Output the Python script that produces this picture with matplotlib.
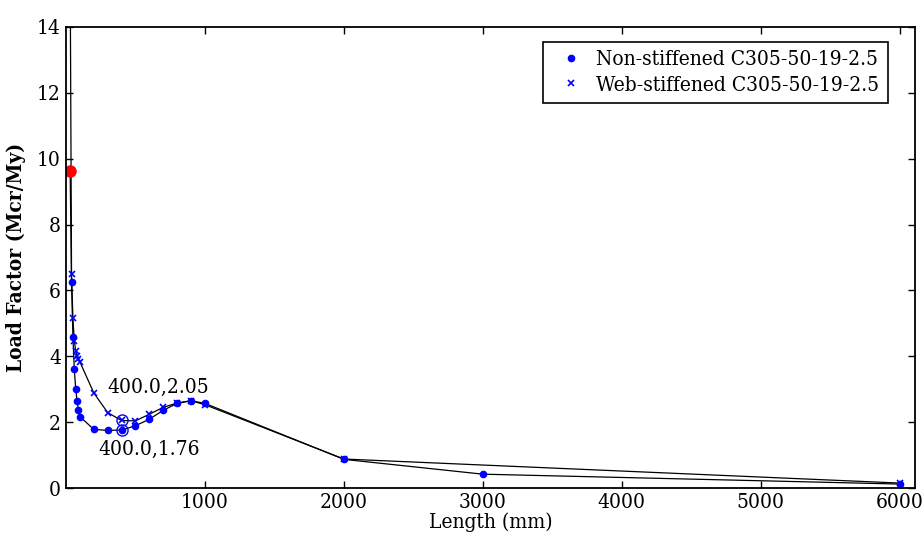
import matplotlib
matplotlib.use("Agg")
import matplotlib.pyplot as plt

plt.rcParams['font.family'] = ['DejaVu Serif']
plt.rcParams['font.stretch'] = 'condensed'

# signature curve data: half-wavelength (mm) vs load factor
len_plain = [30, 40, 50, 60, 70, 80, 90, 100, 200, 300, 400, 500, 600, 700,
             800, 900, 1000, 2000, 3000, 6000]
lf_plain = [9.64, 6.25, 4.58, 3.60, 3.02, 2.63, 2.37, 2.17, 1.78, 1.75, 1.76,
            1.89, 2.09, 2.36, 2.57, 2.65, 2.57, 0.87, 0.42, 0.12]

len_web = [30, 40, 50, 60, 70, 80, 90, 100, 200, 300, 400, 500, 600, 700,
           800, 900, 1000, 2000, 6000]
lf_web = [16.0, 6.49, 5.15, 4.47, 4.17, 4.00, 3.91, 3.83, 2.89, 2.29, 2.05,
          2.04, 2.24, 2.45, 2.58, 2.65, 2.53, 0.88, 0.15]

# selected points
sel_len = [400.0, 400.0]
sel_lf = [2.05, 1.76]
red_len, red_lf = 30, 9.64

fig = plt.figure(figsize=(9.24, 5.39), dpi=100)
ax = fig.add_axes([0.0714, 0.0946, 0.9186, 0.8554])

ax.plot(len_plain, lf_plain, color='black', lw=0.9)
ax.plot(len_web, lf_web, color='black', lw=0.9)
ax.plot(len_plain, lf_plain, linestyle='none', marker='.', ms=9, color='blue',
        label='Non-stiffened C305-50-19-2.5')
ax.plot(len_web, lf_web, linestyle='none', marker='x', ms=4, mew=1.2,
        color='blue', label='Web-stiffened C305-50-19-2.5')
ax.plot(sel_len, sel_lf, linestyle='none', marker='o', ms=8, mfc='none',
        mec='blue', mew=1.0)
ax.plot(red_len, red_lf, linestyle='none', marker='o', ms=8, color='red')

ax.text(662, 3.04, '%.1f,%.2f' % (sel_len[0], sel_lf[0]), fontsize=15,
        ha='center', va='center')
ax.text(597, 1.18, '%.1f,%.2f' % (sel_len[1], sel_lf[1]), fontsize=15,
        ha='center', va='center')

ax.set_xlim(0, 6108)
ax.set_ylim(0, 14)
ax.set_xticks([1000, 2000, 3000, 4000, 5000, 6000])
ax.set_yticks([0, 2, 4, 6, 8, 10, 12, 14])
ax.tick_params(direction='in', top=True, right=True, labelsize=15,
               length=5, width=1)
for s in ax.spines.values():
    s.set_linewidth(1.3)

ax.set_xlabel('Length (mm)', fontsize=15, labelpad=0)
ax.set_ylabel('Load Factor (Mcr/My)', fontsize=15, fontweight='bold',
              labelpad=8)

leg = ax.legend(loc='upper right', fontsize=15, numpoints=1, fancybox=False,
                framealpha=1, edgecolor='black', borderpad=0.4,
                labelspacing=0.3, handlelength=1.9, handletextpad=0.25,
                borderaxespad=0, bbox_to_anchor=(0.968, 0.967))
leg.get_frame().set_linewidth(1.2)

fig.savefig('out.png', dpi=100)
